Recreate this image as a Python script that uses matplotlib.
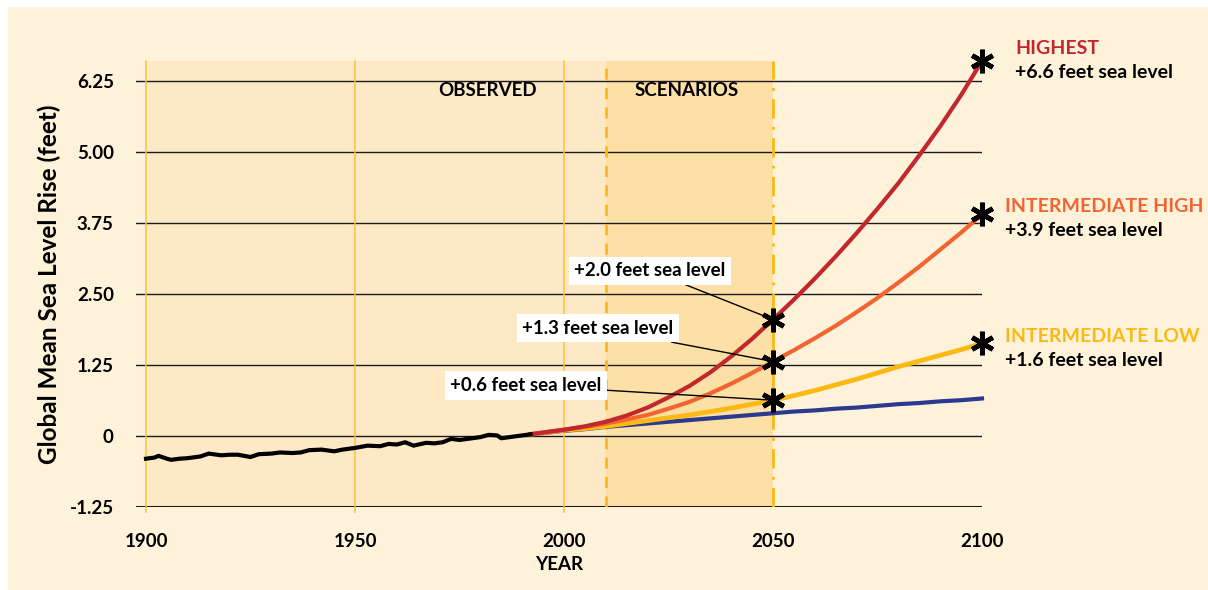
import matplotlib
matplotlib.use("Agg")
import matplotlib.pyplot as plt
import matplotlib.patches as patches

plt.rcParams['font.family'] = ['Lato', 'DejaVu Sans']
plt.rcParams['font.weight'] = 'bold'

# observed global mean sea level (feet)
obs_years = [1900, 1902, 1903, 1905, 1906, 1908, 1910, 1913, 1915, 1918, 1920, 1922, 1925,
             1927, 1930, 1932, 1935, 1937, 1939, 1942, 1945, 1947, 1950, 1953, 1956, 1958,
             1960, 1962, 1964, 1967, 1969, 1971, 1973, 1975, 1977, 1980, 1982, 1984, 1985,
             1988, 1990, 1992]
obs_vals = [-0.40, -0.38, -0.35, -0.40, -0.42, -0.40, -0.39, -0.36, -0.31, -0.34, -0.33,
            -0.33, -0.37, -0.32, -0.31, -0.29, -0.30, -0.29, -0.25, -0.24, -0.27, -0.24,
            -0.21, -0.17, -0.18, -0.14, -0.15, -0.11, -0.17, -0.12, -0.13, -0.11, -0.05,
            -0.07, -0.05, -0.02, 0.02, 0.01, -0.04, -0.01, 0.01, 0.03]

# scenarios
scen_years = [1992, 2000, 2005, 2010, 2015, 2020, 2025, 2030, 2035, 2040, 2045, 2050,
              2055, 2060, 2065, 2070, 2075, 2080, 2085, 2090, 2095, 2100]
highest = [0.03, 0.11, 0.17, 0.25, 0.36, 0.50, 0.68, 0.88, 1.12, 1.40, 1.71, 2.05,
           2.40, 2.77, 3.16, 3.57, 4.00, 4.45, 4.94, 5.45, 6.00, 6.60]
int_high = [0.03, 0.11, 0.16, 0.22, 0.29, 0.37, 0.48, 0.60, 0.75, 0.92, 1.11, 1.31,
            1.51, 1.72, 1.94, 2.18, 2.43, 2.70, 2.98, 3.28, 3.58, 3.90]
int_low = [0.03, 0.10, 0.13, 0.17, 0.22, 0.27, 0.32, 0.37, 0.43, 0.49, 0.56, 0.63,
           0.71, 0.80, 0.90, 1.00, 1.11, 1.22, 1.32, 1.42, 1.52, 1.63]
low = [0.03, 0.09, 0.12, 0.16, 0.19, 0.22, 0.25, 0.28, 0.31, 0.34, 0.37, 0.40,
       0.43, 0.45, 0.48, 0.50, 0.53, 0.56, 0.58, 0.61, 0.63, 0.66]

yticks = [-1.25, 0, 1.25, 2.5, 3.75, 5.0, 6.25]
ytick_labels = ['-1.25', '0', '1.25', '2.50', '3.75', '5.00', '6.25']
xticks = [1900, 1950, 2000, 2050, 2100]

BG = '#fef2da'
OBS_BG = '#fde9c6'
SCEN_BG = '#fde0a6'
GOLD = '#f8c237'
RED = '#c1272d'
ORANGE = '#f26430'
YELLOW = '#fdb913'
BLUE = '#2b3990'
W = 'bold'

fig = plt.figure(figsize=(12.08, 5.9), dpi=100, facecolor='white')
fig.patches.append(patches.Rectangle((8 / 1208, 0), 1, 1 - 7 / 590, transform=fig.transFigure,
                                     facecolor=BG, edgecolor='none', zorder=-10))
ax = fig.add_axes([136 / 1208, 83 / 590, 846 / 1208, 446 / 590])
ax.set_facecolor('none')
ax.set_xlim(1897.6, 2100)
ax.set_ylim(-1.25, 6.6)

ax.axvspan(1900, 2010, color=OBS_BG, lw=0, zorder=0)
ax.axvspan(2010, 2050, color=SCEN_BG, lw=0, zorder=0)

for y in yticks:
    ax.axhline(y, color='#1a1a1a', lw=2.2 if y == -1.25 else 1.0, zorder=1)
for x in [1900, 1950, 2000]:
    ax.axvline(x, ymin=-0.012, color=GOLD, lw=1.1, zorder=1, clip_on=False)
ax.axvline(2010, color=YELLOW, lw=2, ls=(0, (4, 3)), zorder=1)
ax.axvline(2050, color=YELLOW, lw=2, ls=(0, (7, 3, 1, 3)), zorder=1)

ax.plot(obs_years, obs_vals, color='black', lw=3.0, zorder=4, solid_joinstyle='round')
ax.plot(scen_years, low, color=BLUE, lw=3.0, zorder=3, clip_on=False)
ax.plot(scen_years, int_low, color=YELLOW, lw=3.4, zorder=3, clip_on=False)
ax.plot(scen_years, int_high, color=ORANGE, lw=3.0, zorder=3, clip_on=False)
ax.plot(scen_years, highest, color=RED, lw=3.0, zorder=3, clip_on=False)

# asterisks
star = dict(marker=(6, 2, 0), markersize=17, mew=3.4, color='black', ls='none', zorder=6, clip_on=False)
ax.plot([2050, 2050, 2050], [highest[11], int_high[11], int_low[11]], **star)
ax.plot([2100, 2100, 2100], [highest[-1], int_high[-1], int_low[-1]], **star)

# annotations at 2050
box = dict(boxstyle='square,pad=0.3', fc='white', ec='none')
arrow = dict(arrowstyle='-', color='black', lw=1.0, shrinkA=0, shrinkB=4)
ax.annotate('+2.0 feet sea level', xy=(2050, highest[11]), xytext=(2020.6, 2.91), fontweight=W,
            ha='center', va='center', fontsize=13.5, bbox=box, arrowprops=arrow, zorder=5)
ax.annotate('+1.3 feet sea level', xy=(2050, int_high[11]), xytext=(2008.1, 1.9), fontweight=W,
            ha='center', va='center', fontsize=13.5, bbox=box, arrowprops=arrow, zorder=5)
ax.annotate('+0.6 feet sea level', xy=(2050, int_low[11]), xytext=(1990.9, 0.89), fontweight=W,
            ha='center', va='center', fontsize=13.5, bbox=box, arrowprops=arrow, zorder=5)

ax.text(1981.8, 6.08, 'OBSERVED', ha='center', va='center', fontsize=13.5, fontweight=W)
ax.text(2029.4, 6.08, 'SCENARIOS', ha='center', va='center', fontsize=13.5, fontweight=W)

# right side labels
def px(x, y):
    return x / 1208, 1 - y / 590

fig.text(*px(1015, 48), 'HIGHEST', color=RED, fontsize=14, va='center', fontweight=W)
fig.text(*px(1015, 73), '+6.6 feet sea level', color='black', fontsize=14, va='center', fontweight=W)
fig.text(*px(1005, 207), 'INTERMEDIATE HIGH', color=ORANGE, fontsize=14, va='center', fontweight=W)
fig.text(*px(1005, 231), '+3.9 feet sea level', color='black', fontsize=14, va='center', fontweight=W)
fig.text(*px(1005, 337), 'INTERMEDIATE LOW', color=YELLOW, fontsize=14, va='center', fontweight=W)
fig.text(*px(1005, 361), '+1.6 feet sea level', color='black', fontsize=14, va='center', fontweight=W)

ax.set_yticks(yticks)
ax.set_yticklabels(ytick_labels, fontweight=W)
ax.set_xticks(xticks)
ax.set_xticklabels([str(x) for x in xticks], fontweight=W)
ax.tick_params(axis='both', length=0, labelsize=13.5)
ax.tick_params(axis='y', pad=16)
ax.tick_params(axis='x', pad=19)
for s in ax.spines.values():
    s.set_visible(False)

ax.set_xlabel('YEAR', fontsize=13.5, labelpad=4, fontweight=W)
ax.set_ylabel('Global Mean Sea Level Rise (feet)', fontsize=17.5, labelpad=6, fontweight=W)

fig.savefig('out.png', dpi=100, facecolor=fig.get_facecolor())
